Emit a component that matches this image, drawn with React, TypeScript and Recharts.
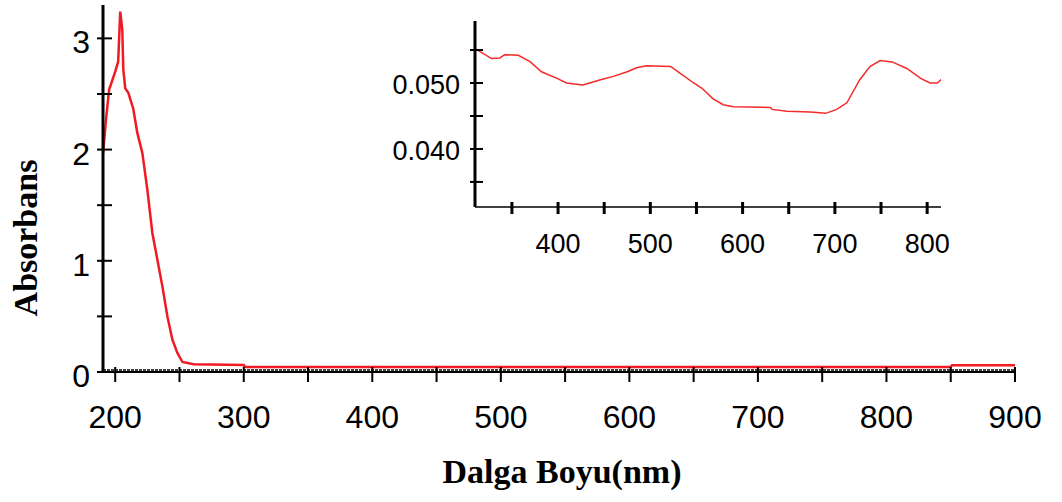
import { LineChart, Line, XAxis, YAxis, ReferenceLine, Label } from 'recharts'

// main spectrum (190-900 nm)
const mainWavelength = [
  190.6, 193, 195.3, 200, 202.3, 203.9, 205.5, 206.3, 207.8, 210.2, 214, 217.2, 221.1, 225,
  228.9, 232.8, 236.7, 240.6, 244.5, 248.4, 252.3, 261, 300, 301, 850, 851, 900,
]
const mainAbsorbance = [
  1.97, 2.29, 2.54, 2.7, 2.79, 3.24, 3.08, 2.72, 2.55, 2.51, 2.37, 2.15, 1.97, 1.64,
  1.25, 1.01, 0.77, 0.5, 0.29, 0.17, 0.09, 0.07, 0.063, 0.045, 0.045, 0.06, 0.06,
]

// inset: zoom on the visible range
const insetWavelength = [
  310, 328, 337, 342, 357, 370, 382, 399, 409, 427, 446, 460, 475, 485, 496, 522, 532, 547,
  556, 568, 579, 590, 630, 632, 648, 673, 690, 702, 713, 727, 738, 749, 762, 778, 793, 803,
  811, 816,
]
const insetAbsorbance = [
  0.0552, 0.0537, 0.0538, 0.0543, 0.0542, 0.0532, 0.0517, 0.0507, 0.05, 0.0497, 0.0505,
  0.051, 0.0517, 0.0523, 0.0526, 0.0525, 0.0515, 0.05, 0.0492, 0.0476, 0.0467, 0.0464,
  0.0463, 0.046, 0.0457, 0.0456, 0.0454, 0.046, 0.047, 0.0505, 0.0525, 0.0534, 0.0532,
  0.0522, 0.0507, 0.05, 0.05, 0.0506,
]

const mainXTicks = [200, 250, 300, 350, 400, 450, 500, 550, 600, 650, 700, 750, 800, 850, 900]
const mainXLabels = [200, 300, 400, 500, 600, 700, 800, 900]
const mainYTicks = [0, 0.5, 1, 1.5, 2, 2.5, 3]
const mainYLabels = [0, 1, 2, 3]
const insetXTicks = [350, 400, 450, 500, 550, 600, 650, 700, 750, 800]
const insetXLabels = [400, 500, 600, 700, 800]
const insetYTicks = [0.035, 0.04, 0.045, 0.05, 0.055]
const insetYLabels = ['0.040', '0.050']

const mainData = mainWavelength.map((nm, i) => ({ nm, abs: mainAbsorbance[i] }))
const insetData = insetWavelength.map((nm, i) => ({ nm, abs: insetAbsorbance[i] }))

const sans = 'Liberation Sans, Arial, sans-serif'
const serif = 'Liberation Serif, Times New Roman, serif'

function MainXTick({ x, y, payload }: any) {
  const v = payload.value
  return (
    <g>
      <line x1={x} x2={x} y1={y - 5} y2={y + 10} stroke="#000" strokeWidth={2} />
      {mainXLabels.includes(v) && (
        <text x={x} y={y + 56} textAnchor="middle" fontSize={32} fontFamily={sans} fill="#000">
          {v}
        </text>
      )}
    </g>
  )
}

function MainYTick({ x, y, payload }: any) {
  const v = payload.value
  return (
    <g>
      <line x1={x - 6} x2={x + 9} y1={y} y2={y} stroke="#000" strokeWidth={2} />
      {mainYLabels.includes(v) && (
        <text x={x - 13} y={y + 15} textAnchor="end" fontSize={32} fontFamily={sans} fill="#000">
          {v}
        </text>
      )}
    </g>
  )
}

function InsetXTick({ x, y, payload }: any) {
  const v = payload.value
  return (
    <g>
      <line x1={x} x2={x} y1={y - 5} y2={y + 7} stroke="#000" strokeWidth={3} />
      {insetXLabels.includes(v) && (
        <text x={x} y={y + 46} textAnchor="middle" fontSize={27} fontFamily={sans} fill="#000">
          {v}
        </text>
      )}
    </g>
  )
}

function InsetYTick({ x, y, payload }: any) {
  const v = (payload.value as number).toFixed(3)
  return (
    <g>
      <line x1={x - 5} x2={x + 8} y1={y} y2={y} stroke="#000" strokeWidth={2} />
      {insetYLabels.includes(v) && (
        <text x={x - 15} y={y + 11} textAnchor="end" fontSize={27} fontFamily={sans} fill="#000">
          {v}
        </text>
      )}
    </g>
  )
}

export default function App() {
  return (
    <div style={{ position: 'absolute', left: 0, top: 0, width: 1062, height: 502, background: '#fff' }}>
      <div style={{ position: 'absolute', left: 0, top: 0 }}>
        <LineChart width={1062} height={502} data={mainData} margin={{ top: 5, right: 47, left: 0, bottom: 70 }}>
          <XAxis
            dataKey="nm"
            type="number"
            domain={[190.5, 900]}
            ticks={mainXTicks}
            allowDataOverflow
            height={60}
            tickSize={0}
            tickMargin={0}
            tickLine={false}
            tick={<MainXTick />}
            axisLine={{ stroke: '#000', strokeWidth: 2 }}
          >
            <Label
              value="Dalga Boyu(nm)"
              position="bottom"
              offset={27}
              dx={3}
              style={{ fontFamily: serif, fontWeight: 'bold', fontSize: 34, fill: '#000' }}
            />
          </XAxis>
          <YAxis
            type="number"
            domain={[0, 3.3]}
            ticks={mainYTicks}
            allowDataOverflow
            width={103}
            tickSize={0}
            tickMargin={0}
            tickLine={false}
            tick={<MainYTick />}
            axisLine={{ stroke: '#000', strokeWidth: 3 }}
          >
            <Label
              content={() => (
                <text
                  transform="translate(37,238) rotate(-90)"
                  textAnchor="middle"
                  fontFamily={serif}
                  fontWeight="bold"
                  fontSize={34}
                  fill="#000"
                >
                  Absorbans
                </text>
              )}
            />
          </YAxis>
          <ReferenceLine
            y={0}
            shape={(p: any) => (
              <line x1={p.x1} x2={p.x2} y1={p.y1 - 2} y2={p.y2 - 2} stroke="#000" strokeWidth={1.5} strokeDasharray="3 1" />
            )}
          />
          <Line
            dataKey="abs"
            type="linear"
            stroke="#f01a22"
            strokeWidth={2.5}
            dot={false}
            isAnimationActive={false}
          />
        </LineChart>
      </div>
      <div style={{ position: 'absolute', left: 370, top: 0 }}>
        <LineChart width={600} height={270} data={insetData} margin={{ top: 21, right: 29, left: 0, bottom: 13 }}>
          <XAxis
            dataKey="nm"
            type="number"
            domain={[310, 815]}
            ticks={insetXTicks}
            allowDataOverflow
            height={50}
            tickSize={0}
            tickMargin={0}
            tickLine={false}
            tick={<InsetXTick />}
            axisLine={{ stroke: '#000', strokeWidth: 1.5 }}
          />
          <YAxis
            type="number"
            domain={[0.0312, 0.0594]}
            ticks={insetYTicks}
            allowDataOverflow
            width={105}
            tickSize={0}
            tickMargin={0}
            tickLine={false}
            tick={<InsetYTick />}
            axisLine={{ stroke: '#000', strokeWidth: 3 }}
          />
          <Line
            dataKey="abs"
            type="linear"
            stroke="#f52a2a"
            strokeWidth={1.5}
            dot={false}
            isAnimationActive={false}
          />
        </LineChart>
      </div>
    </div>
  )
}
